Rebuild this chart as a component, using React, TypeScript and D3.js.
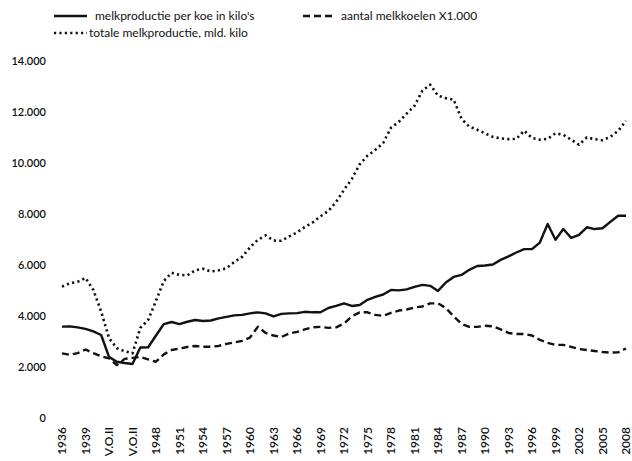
import React from 'react';
import * as d3 from 'd3';

// jaren 1936-2008, oorlogsjaren als V.O.II
const years = d3.range(1936, 2009).map(y => (y >= 1940 && y <= 1945 ? 'V.O.II' : String(y)));

const perKoe = [
  3590, 3600, 3560, 3500, 3400, 3260, 2400, 2210, 2160, 2120,
  2770, 2780, 3240, 3690, 3770, 3690, 3780, 3850, 3810, 3830,
  3910, 3970, 4030, 4050, 4110, 4150, 4110, 3990, 4090, 4110,
  4120, 4170, 4150, 4150, 4320, 4400, 4500, 4400, 4440, 4640,
  4760, 4850, 5030, 5010, 5050, 5150, 5230, 5190, 4990, 5320,
  5540, 5620, 5820, 5970, 5990, 6030, 6210, 6350, 6500, 6630,
  6630, 6890, 7620, 7000, 7420, 7070, 7190, 7490, 7420, 7450,
  7700, 7940, 7940,
];

const melkkoeien = [
  2540, 2480, 2550, 2690, 2550, 2420, 2340, 2080, 2320, 2360,
  2400, 2300, 2210, 2500, 2670, 2730, 2790, 2830, 2800, 2800,
  2830, 2910, 2970, 3030, 3160, 3580, 3340, 3240, 3180, 3320,
  3380, 3480, 3560, 3580, 3540, 3560, 3710, 3990, 4150, 4150,
  4050, 4010, 4130, 4220, 4260, 4340, 4380, 4500, 4500, 4320,
  3990, 3700, 3580, 3580, 3620, 3600, 3480, 3340, 3300, 3300,
  3240, 3070, 2950, 2870, 2870, 2790, 2710, 2670, 2630, 2590,
  2570, 2580, 2730,
];

const totaal = [
  5160, 5290, 5350, 5500, 5030, 4180, 3140, 2740, 2620, 2540,
  3540, 3850, 4600, 5380, 5700, 5620, 5600, 5800, 5860, 5750,
  5800, 5880, 6130, 6330, 6700, 7000, 7170, 6970, 6960, 7130,
  7290, 7500, 7680, 7920, 8130, 8490, 8960, 9390, 9960, 10300,
  10530, 10800, 11400, 11630, 11950, 12260, 12850, 13090, 12660, 12560,
  12500, 11750, 11440, 11320, 11180, 11040, 10980, 10950, 10960, 11280,
  11000, 10930, 10960, 11180, 11120, 10930, 10730, 11020, 10950, 10910,
  11040, 11280, 11670,
];

const yTicks = [0, 2000, 4000, 6000, 8000, 10000, 12000, 14000];

const series = [
  { name: "melkproductie per koe in kilo's", values: perKoe, dash: null, lx: 54, ly: 16, tx: 95 },
  { name: 'aantal melkkoelen X1.000', values: melkkoeien, dash: '7 4', lx: 303, ly: 16, tx: 341 },
  { name: 'totale melkproductie, mld. kilo', values: totaal, dash: '2.2 3.2', lx: 54, ly: 33, tx: 89 },
];

const nl = d3.formatLocale({ decimal: ',', thousands: '.', grouping: [3], currency: ['€', ''] });
const fmt = nl.format(',');

export default function App() {
  const width = 632;
  const height = 461;
  const font = 'Lato, "Liberation Sans", sans-serif';

  const x = d3.scalePoint<number>().domain(d3.range(years.length)).range([62, 626]);
  const y = d3.scaleLinear().domain([0, 14000]).range([418, 61.5]);

  const line = d3.line<number>()
    .x((d, i) => x(i) as number)
    .y(d => y(d));

  return (
    <svg width={width} height={height} style={{ position: 'absolute', left: 0, top: 0, background: '#fff' }}
      fontFamily={font}>
      {series.map(s => (
        <path key={s.name} d={line(s.values) || ''} fill="none" stroke="#111"
          strokeWidth={s.dash === '2.2 3.2' ? 2.6 : 2.4}
          strokeDasharray={s.dash || undefined} strokeLinejoin="round" />
      ))}

      {yTicks.map(t => (
        <text key={t} x={46} y={y(t)} dy="0.35em" textAnchor="end" fontSize={11} fontWeight={600} fill="#111">
          {fmt(t)}
        </text>
      ))}

      {years.map((lab, i) => i % 3 === 0 ? (
        <text key={i} transform={`translate(${(x(i) as number) + 4},427) rotate(-90)`} textAnchor="end"
          fontSize={12} fontWeight={600} fill="#111">
          {lab}
        </text>
      ) : null)}

      {series.map(s => (
        <g key={'lg' + s.name}>
          <line x1={s.lx} x2={s.lx + 33} y1={s.ly} y2={s.ly} stroke="#111"
            strokeWidth={s.dash === '2.2 3.2' ? 2.6 : 2.4} strokeDasharray={s.dash || undefined} />
          <text x={s.tx} y={s.ly + 4} fontSize={12} fill="#111">{s.name}</text>
        </g>
      ))}
    </svg>
  );
}
